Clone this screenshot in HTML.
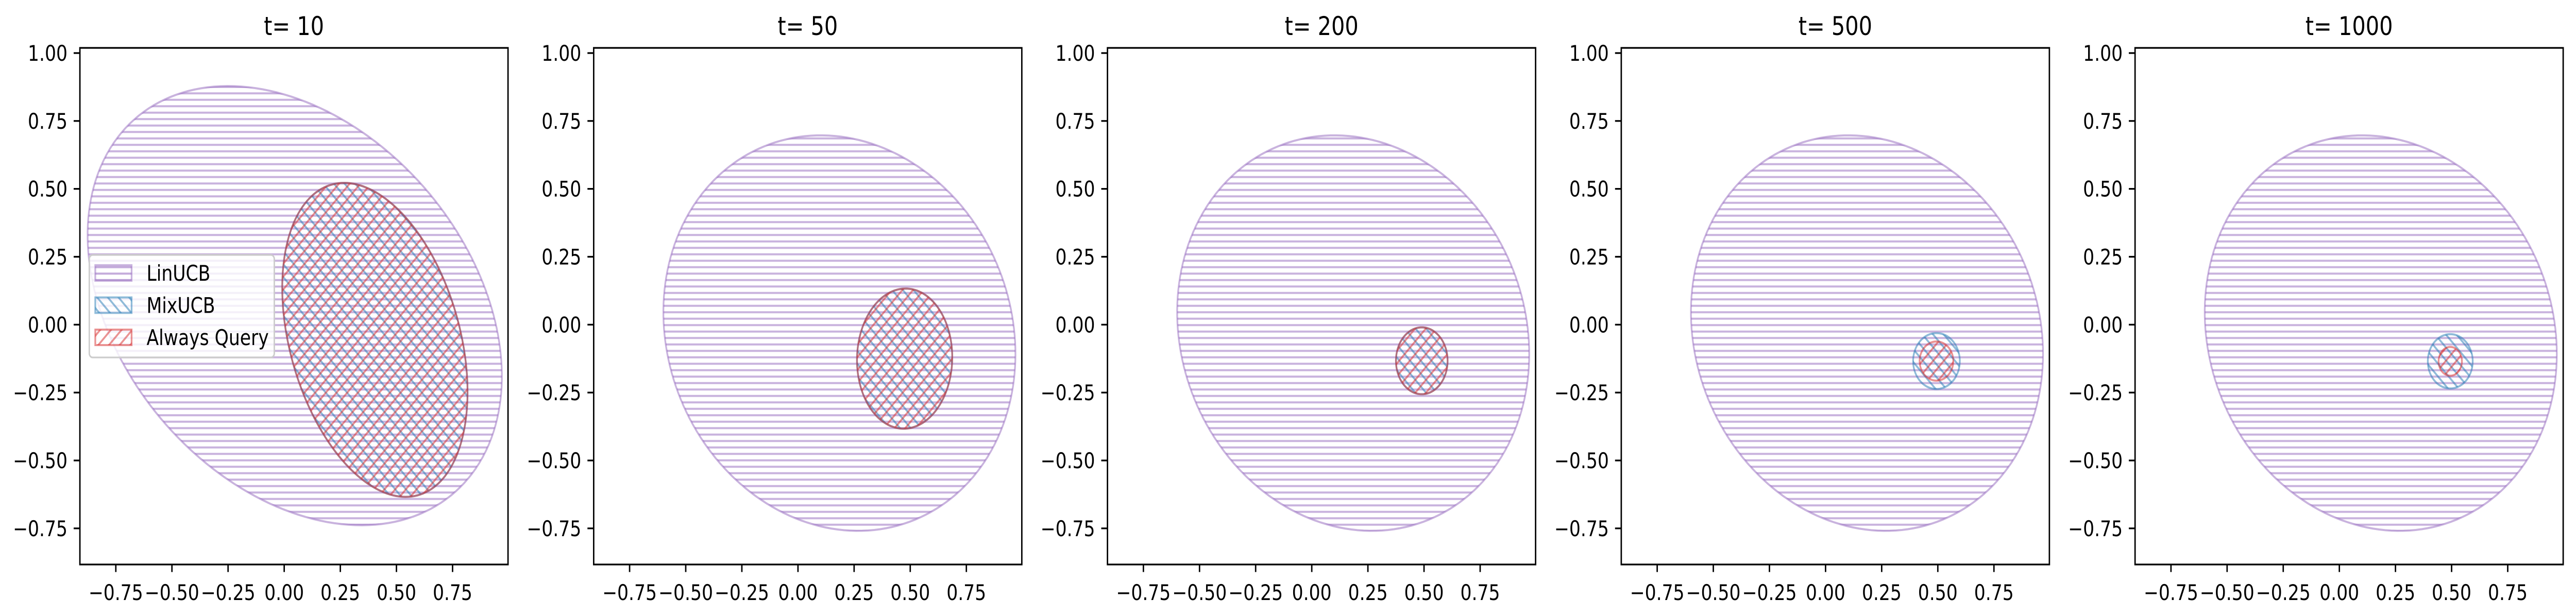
<!DOCTYPE html>
<html><head><meta charset="utf-8">
<style>
html,body{margin:0;padding:0;background:#fff;overflow:hidden;width:100vw;height:100vh;}
svg{display:block;position:absolute;left:0;top:0;width:100vw;height:100vh;}
text{font-family:"DejaVu Sans","Liberation Sans",sans-serif;fill:#000;}
</style></head>
<body>
<svg id="fig" xmlns="http://www.w3.org/2000/svg" viewBox="0 0 6029 1196" preserveAspectRatio="none">
<defs>
  <pattern id="hatch-h" patternUnits="userSpaceOnUse" width="25" height="12.5">
    <path d="M-1,6.25 L26,6.25" stroke="rgba(148,103,189,0.5)" stroke-width="4"/>
  </pattern>
  <pattern id="hatch-bs" patternUnits="userSpaceOnUse" width="25" height="25">
    <path d="M0,0 L25,25 M-5,20 L5,30 M20,-5 L30,5" stroke="rgba(31,119,180,0.5)" stroke-width="4"/>
  </pattern>
  <pattern id="hatch-fs" patternUnits="userSpaceOnUse" width="25" height="25">
    <path d="M0,25 L25,0 M-5,5 L5,-5 M20,30 L30,20" stroke="rgba(214,39,40,0.5)" stroke-width="4"/>
  </pattern>
</defs>
</svg>
<script>
// ---- data ----
const panelTitles = ["t= 10", "t= 50", "t= 200", "t= 500", "t= 1000"];
const xTicks = [-0.75, -0.5, -0.25, 0, 0.25, 0.5, 0.75];
const xTickLabels = ["\u22120.75", "\u22120.50", "\u22120.25", "0.00", "0.25", "0.50", "0.75"];
const yTicks = [1.0, 0.75, 0.5, 0.25, 0, -0.25, -0.5, -0.75];
const yTickLabels = ["1.00", "0.75", "0.50", "0.25", "0.00", "\u22120.25", "\u22120.50", "\u22120.75"];
const seriesNames = ["LinUCB", "MixUCB", "Always Query"];
// LinUCB ellipse per panel: center x, center y, semi-axis a, semi-axis b, rotation (deg)
const linCx = [0.047, 0.1845, 0.1845, 0.1845, 0.1845];
const linCy = [0.07, -0.031, -0.031, -0.031, -0.031];
const linA = [1.006, 0.804, 0.804, 0.804, 0.804];
const linB = [0.702, 0.706, 0.706, 0.706, 0.706];
const linRot = [-33.8, -27.5, -27.5, -27.5, -27.5];
// MixUCB ellipse per panel
const mixCx = [0.404, 0.475, 0.49, 0.494, 0.494];
const mixCy = [-0.056, -0.125, -0.133, -0.134, -0.135];
const mixA = [0.605, 0.212, 0.115, 0.104, 0.1];
const mixB = [0.372, 0.258, 0.123, 0.103, 0.1];
const mixRot = [-68, -3, 0, 0, 0];
// Always Query ellipse per panel
const aqCx = [0.404, 0.475, 0.49, 0.494, 0.494];
const aqCy = [-0.056, -0.125, -0.133, -0.134, -0.135];
const aqA = [0.605, 0.212, 0.115, 0.075, 0.052];
const aqB = [0.372, 0.258, 0.123, 0.072, 0.053];
const aqRot = [-68, -3, 0, 0, 0];

// ---- layout ----
const NS = "http://www.w3.org/2000/svg";
const svg = document.getElementById("fig");
const AX_W = 1002, AX_H = 1003, AX_TOP = 93, PANEL_STEP = 1202.5, FIRST_LEFT = 187;
const XMIN = -0.91, XMAX = 0.997, YMIN = -0.883, YMAX = 1.019;
function mk(tag, attrs, parent) {
  const e = document.createElementNS(NS, tag);
  for (const k in attrs) e.setAttribute(k, attrs[k]);
  (parent || svg).appendChild(e);
  return e;
}
function xScale(left, v) { return left + (v - XMIN) / (XMAX - XMIN) * AX_W; }
function yScale(v) { return AX_TOP + (YMAX - v) / (YMAX - YMIN) * AX_H; }
function ellipsePath(left, cx, cy, a, b, rotDeg) {
  const th = rotDeg * Math.PI / 180;
  let d = "";
  for (let i = 0; i <= 180; i++) {
    const t = i / 180 * 2 * Math.PI;
    const dx = a * Math.cos(t), dy = b * Math.sin(t);
    const x = cx + dx * Math.cos(th) - dy * Math.sin(th);
    const y = cy + dx * Math.sin(th) + dy * Math.cos(th);
    d += (i ? "L" : "M") + xScale(left, x).toFixed(2) + "," + yScale(y).toFixed(2);
  }
  return d + "Z";
}

for (let p = 0; p < panelTitles.length; p++) {
  const left = FIRST_LEFT + p * PANEL_STEP;
  const g = mk("g", {});
  
  
  const clipId = "clip" + p;
  const cp = mk("clipPath", { id: clipId }, g);
  mk("rect", { x: left, y: AX_TOP, width: AX_W, height: AX_H }, cp);
  const plot = mk("g", { "clip-path": "url(#" + clipId + ")" }, g);

  const e1 = mk("path", { d: ellipsePath(left, linCx[p], linCy[p], linA[p], linB[p], linRot[p]),
    fill: "url(#hatch-h)", stroke: "rgba(148,103,189,0.5)", "stroke-width": 4 }, plot);
  
  
  const e2 = mk("path", { d: ellipsePath(left, mixCx[p], mixCy[p], mixA[p], mixB[p], mixRot[p]),
    fill: "url(#hatch-bs)", stroke: "rgba(31,119,180,0.5)", "stroke-width": 4 }, plot);
  
  
  const e3 = mk("path", { d: ellipsePath(left, aqCx[p], aqCy[p], aqA[p], aqB[p], aqRot[p]),
    fill: "url(#hatch-fs)", stroke: "rgba(214,39,40,0.5)", "stroke-width": 4 }, plot);
  
  

  const frame = mk("rect", { x: left, y: AX_TOP, width: AX_W, height: AX_H, fill: "none", stroke: "#000", "stroke-width": 3.3 }, g);
  
  

  const title = mk("text", { x: left + AX_W / 2, y: 68, "font-size": 50, "text-anchor": "middle" }, g);
  title.textContent = panelTitles[p];
  
  

  for (let i = 0; i < xTicks.length; i++) {
    const x = xScale(left, xTicks[i]);
    const tk = mk("line", { x1: x, x2: x, y1: AX_TOP + AX_H, y2: AX_TOP + AX_H + 14.6, stroke: "#000", "stroke-width": 3.3 }, g);
    
    
    const tl = mk("text", { x: x, y: AX_TOP + AX_H + 69, "font-size": 41.7, "text-anchor": "middle" }, g);
    tl.textContent = xTickLabels[i];
    
    
  }
  for (let i = 0; i < yTicks.length; i++) {
    const y = yScale(yTicks[i]);
    const tk = mk("line", { x1: left - 14.6, x2: left, y1: y, y2: y, stroke: "#000", "stroke-width": 3.3 }, g);
    
    
    const tl = mk("text", { x: left - 29, y: y + 15, "font-size": 41.7, "text-anchor": "end" }, g);
    tl.textContent = yTickLabels[i];
    
    
  }
}

// legend (panel 1)
const leg = mk("g", {});


mk("rect", { x: 209, y: 495, width: 433, height: 199, rx: 8, fill: "rgba(255,255,255,0.8)", stroke: "#cccccc", "stroke-width": 3.3 }, leg);
const legFills = ["url(#hatch-h)", "url(#hatch-bs)", "url(#hatch-fs)"];
const legStrokes = ["rgba(148,103,189,0.5)", "rgba(31,119,180,0.5)", "rgba(214,39,40,0.5)"];
const legKeys = ["legend-entry-linucb", "legend-entry-mixucb", "legend-entry-always-query"];
for (let i = 0; i < seriesNames.length; i++) {
  const cy = 530 + i * 62.5;
  const eg = mk("g", {}, leg);
  
  
  mk("rect", { x: 223, y: cy - 15, width: 85, height: 30, fill: legFills[i], stroke: legStrokes[i], "stroke-width": 4 }, eg);
  const t = mk("text", { x: 343, y: cy + 15, "font-size": 41.7 }, eg);
  t.textContent = seriesNames[i];
}
</script>
</body></html>
